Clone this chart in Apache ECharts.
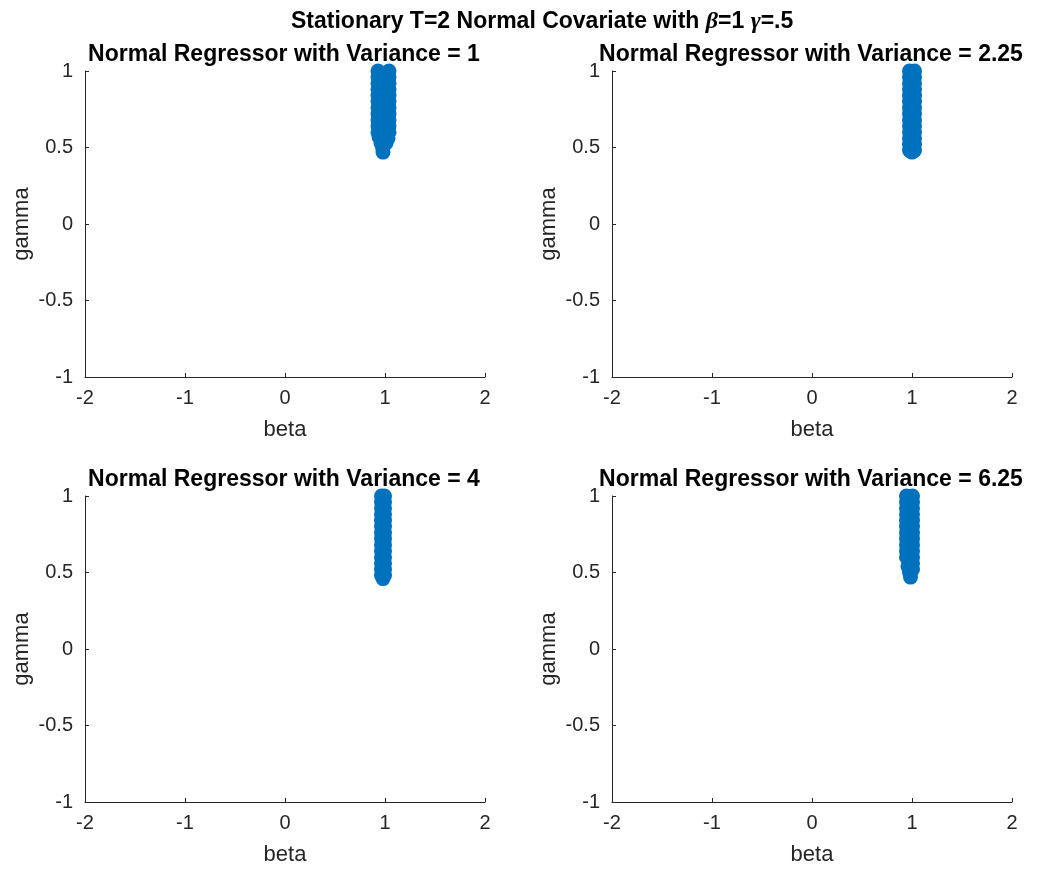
<!DOCTYPE html>
<html>
<head>
<meta charset="utf-8">
<script src="https://cdn.jsdelivr.net/npm/echarts@6/dist/echarts.min.js"></script>
<style>
html,body{margin:0;padding:0;background:#fff;}
#chart{width:1038px;height:869px;}
</style>
</head>
<body>
<div id="chart"></div>
<script>
// ---- data ----
const mainTitle = ['Stationary T=2 Normal Covariate with ', 'β', '=1 ', 'γ', '=.5'];
const panelTitles = ['Normal Regressor with Variance = 1', 'Normal Regressor with Variance = 2.25',
                     'Normal Regressor with Variance = 4', 'Normal Regressor with Variance = 6.25'];
const xTicks = [-2, -1, 0, 1, 2];
const yTicks = [-1, -0.5, 0, 0.5, 1];
const xLabel = 'beta';
const yLabel = 'gamma';

// Variance = 1
const betaV1  = [0.93,1.04,0.93,1.04,0.93,1.04,0.93,1.04,0.93,1.04,0.93,1.04,0.93,1.04,0.93,1.04,0.93,1.04,0.93,1.04,0.93,1.04,
                 0.94,1.03,0.96,1.01,0.975,0.98];
const gammaV1 = [1.00,1.00,0.96,0.96,0.92,0.92,0.88,0.88,0.84,0.84,0.80,0.80,0.76,0.76,0.72,0.72,0.68,0.68,0.64,0.64,0.60,0.60,
                 0.57,0.56,0.53,0.53,0.50,0.47];
// Variance = 2.25
const betaV2  = [0.975,1.025,0.975,1.025,0.975,1.025,0.975,1.025,0.975,1.025,0.975,1.025,0.975,1.025,
                 0.975,1.025,0.975,1.025,0.975,1.025,0.975,1.025,0.975,1.025,0.975,1.025,0.975,1.025,1.0];
const gammaV2 = [1.00,1.00,0.96,0.96,0.92,0.92,0.88,0.88,0.84,0.84,0.80,0.80,0.76,0.76,
                 0.72,0.72,0.68,0.68,0.64,0.64,0.60,0.60,0.56,0.56,0.52,0.52,0.48,0.48,0.47];
// Variance = 4
const betaV3  = [0.965,0.995,0.965,0.995,0.965,0.995,0.965,0.995,0.965,0.995,0.965,0.995,0.965,0.995,
                 0.965,0.995,0.965,0.995,0.965,0.995,0.965,0.995,0.965,0.995,0.965,0.995,0.965,0.995,0.98];
const gammaV3 = [1.00,1.00,0.96,0.96,0.92,0.92,0.88,0.88,0.84,0.84,0.80,0.80,0.76,0.76,
                 0.72,0.72,0.68,0.68,0.64,0.64,0.60,0.60,0.56,0.56,0.52,0.52,0.48,0.48,0.46];
// Variance = 6.25
const betaV4  = [0.945,1.005,0.945,1.005,0.945,1.005,0.945,1.005,0.945,1.005,0.945,1.005,0.945,1.005,
                 0.945,1.005,0.945,1.005,0.945,1.005,0.945,1.005,1.005,1.005,0.96,0.975,0.985];
const gammaV4 = [1.00,1.00,0.96,0.96,0.92,0.92,0.88,0.88,0.84,0.84,0.80,0.80,0.76,0.76,
                 0.72,0.72,0.68,0.68,0.64,0.64,0.60,0.60,0.56,0.52,0.54,0.50,0.47];

const panelBeta  = [betaV1, betaV2, betaV3, betaV4];
const panelGamma = [gammaV1, gammaV2, gammaV3, gammaV4];

// ---- layout ----
const FONT = '"Liberation Sans", Arial, Helvetica, sans-serif';
const AX = '#262626';
const grids = [
  {left: 85,  top: 71,  width: 400, height: 306},
  {left: 612, top: 71,  width: 400, height: 306},
  {left: 85,  top: 496, width: 400, height: 306},
  {left: 612, top: 496, width: 400, height: 306}
];

const chart = echarts.init(document.getElementById('chart'), null, {renderer: 'canvas'});

const xAxes = [], yAxes = [], series = [], graphics = [];
grids.forEach((g, i) => {
  xAxes.push({
    gridIndex: i, type: 'value',
    min: xTicks[0], max: xTicks[xTicks.length - 1], interval: xTicks[1] - xTicks[0],
    axisLine: {show: true, onZero: false, lineStyle: {color: AX, width: 1}},
    axisTick: {show: true, inside: true, length: 4, lineStyle: {color: AX}},
    axisLabel: {color: AX, fontSize: 20, fontFamily: FONT, margin: 11},
    splitLine: {show: false},
    name: xLabel, nameLocation: 'middle', nameGap: 42,
    nameTextStyle: {color: AX, fontSize: 22, fontFamily: FONT}
  });
  yAxes.push({
    gridIndex: i, type: 'value',
    min: yTicks[0], max: yTicks[yTicks.length - 1], interval: yTicks[1] - yTicks[0],
    axisLine: {show: true, onZero: false, lineStyle: {color: AX, width: 1}},
    axisTick: {show: true, inside: true, length: 4, lineStyle: {color: AX}},
    axisLabel: {color: AX, fontSize: 20, fontFamily: FONT, margin: 12},
    splitLine: {show: false},
    name: yLabel, nameLocation: 'middle', nameGap: 52,
    nameTextStyle: {color: AX, fontSize: 22, fontFamily: FONT}
  });
  series.push({
    type: 'scatter', xAxisIndex: i, yAxisIndex: i,
    data: panelBeta[i].map((b, k) => [b, panelGamma[i][k]]),
    symbol: 'circle', symbolSize: 15, clip: false,
    itemStyle: {color: '#0072BD', opacity: 1},
    emphasis: {disabled: true}
  });
  graphics.push({
    type: 'text',
    x: g.left + g.width / 2 - 1, y: g.top - 16,
    style: {
      text: panelTitles[i], fill: '#000',
      font: 'bold 23px ' + FONT,
      textAlign: 'center', textVerticalAlign: 'middle'
    }
  });
});

chart.setOption({
  animation: false,
  backgroundColor: '#fff',
  title: {
    left: 286, top: 5,
    text: '{a|' + mainTitle[0] + '}{i|' + mainTitle[1] + '}{a|' + mainTitle[2] + '}{i|' + mainTitle[3] + '}{a|' + mainTitle[4] + '}',
    textStyle: {
      rich: {
        a: {fontFamily: FONT, fontWeight: 'bold', fontSize: 23, color: '#000'},
        i: {fontFamily: '"Liberation Serif", "DejaVu Serif", serif', fontStyle: 'italic', fontSize: 24, color: '#000'}
      }
    }
  },
  grid: grids,
  xAxis: xAxes,
  yAxis: yAxes,
  series: series,
  graphic: graphics
});
</script>
</body>
</html>
